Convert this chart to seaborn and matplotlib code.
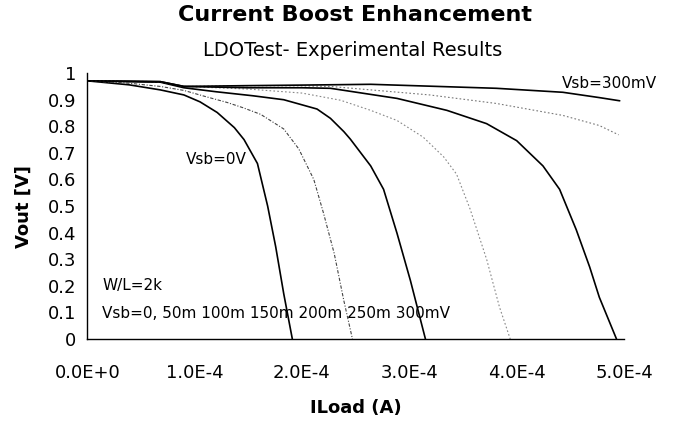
import matplotlib
matplotlib.use("Agg")
import matplotlib.pyplot as plt
import seaborn as sns
import pandas as pd

# ---- data (x in units of 1e-4 A, Vout in V) ----
vsb_labels = ["0", "50m", "100m", "150m", "200m", "250m", "300m"]

x_0 = [0, 0.39, 0.68, 0.90, 1.05, 1.21, 1.37, 1.46, 1.585, 1.68, 1.755, 1.83, 1.91]
y_0 = [0.971, 0.956, 0.937, 0.918, 0.892, 0.852, 0.795, 0.75, 0.66, 0.50, 0.347, 0.17, 0.0]

x_50 = [0, 0.39, 0.68, 0.9, 1.1, 1.30, 1.45, 1.615, 1.83, 1.97, 2.11, 2.20, 2.30, 2.39, 2.47]
y_50 = [0.971, 0.962, 0.95, 0.935, 0.912, 0.89, 0.87, 0.845, 0.79, 0.715, 0.60, 0.474, 0.322, 0.144, 0.0]

x_100 = [0, 0.68, 0.9, 1.2, 1.54, 1.83, 2.14, 2.265, 2.39, 2.45, 2.64, 2.76, 2.885, 3.01, 3.15]
y_100 = [0.971, 0.966, 0.945, 0.93, 0.915, 0.9, 0.865, 0.83, 0.78, 0.752, 0.651, 0.563, 0.398, 0.22, 0.0]

x_150 = [0, 0.68, 0.9, 1.5, 2.0, 2.36, 2.64, 2.885, 3.13, 3.32, 3.44, 3.565, 3.72, 3.84, 3.94]
y_150 = [0.971, 0.968, 0.95, 0.94, 0.925, 0.898, 0.86, 0.822, 0.759, 0.685, 0.62, 0.49, 0.30, 0.12, 0.0]

x_200 = [0, 0.68, 0.9, 1.5, 2.0, 2.265, 2.885, 3.35, 3.72, 4.0, 4.245, 4.40, 4.555, 4.68, 4.77, 4.93]
y_200 = [0.971, 0.968, 0.95, 0.945, 0.945, 0.943, 0.905, 0.86, 0.81, 0.746, 0.651, 0.563, 0.411, 0.271, 0.157, 0.0]

x_250 = [0, 0.68, 0.9, 1.5, 2.0, 2.265, 3.19, 3.81, 4.43, 4.77, 4.95]
y_250 = [0.971, 0.968, 0.95, 0.953, 0.952, 0.95, 0.918, 0.886, 0.841, 0.803, 0.768]

x_300 = [0, 0.68, 0.9, 1.5, 2.0, 2.64, 3.81, 4.43, 4.77, 4.96]
y_300 = [0.971, 0.968, 0.95, 0.953, 0.955, 0.958, 0.943, 0.928, 0.908, 0.896]

x_ticks = [0, 1, 2, 3, 4, 5]
x_tick_labels = ["0.0E+0", "1.0E-4", "2.0E-4", "3.0E-4", "4.0E-4", "5.0E-4"]
y_ticks = [0, 0.1, 0.2, 0.3, 0.4, 0.5, 0.6, 0.7, 0.8, 0.9, 1.0]
y_tick_labels = ["0", "0.1", "0.2", "0.3", "0.4", "0.5", "0.6", "0.7", "0.8", "0.9", "1"]

xs = [x_0, x_50, x_100, x_150, x_200, x_250, x_300]
ys = [y_0, y_50, y_100, y_150, y_200, y_250, y_300]

frames = []
for lab, xv, yv in zip(vsb_labels, xs, ys):
    frames.append(pd.DataFrame({"ILoad": [v * 1e-4 for v in xv], "Vout": yv, "Vsb": lab}))
df = pd.concat(frames, ignore_index=True)

sns.set_theme(style="white")
plt.rcParams["font.family"] = ["DejaVu Sans"]

fig = plt.figure(figsize=(6.79, 4.24), dpi=100)
ax = fig.add_axes([0.1286, 0.2005, 0.7904, 0.627])

styles = {
    "0": dict(color="black", lw=1.2, ls="-"),
    "50m": dict(color="#444444", lw=0.8, ls=(0, (3, 1.5, 1, 1.5))),
    "100m": dict(color="black", lw=1.2, ls="-"),
    "150m": dict(color="#888888", lw=0.8, ls=(0, (1.5, 2))),
    "200m": dict(color="black", lw=1.2, ls="-"),
    "250m": dict(color="#777777", lw=0.8, ls=(0, (1.5, 2))),
    "300m": dict(color="black", lw=1.2, ls="-"),
}
for lab in vsb_labels:
    sub = df[df["Vsb"] == lab]
    st = styles[lab]
    sns.lineplot(data=sub, x="ILoad", y="Vout", ax=ax, sort=False, estimator=None,
                 color=st["color"], linewidth=st["lw"], linestyle=st["ls"])

ax.set_xlim(0, 5e-4)
ax.set_ylim(0, 1)
ax.set_xticks([t * 1e-4 for t in x_ticks])
ax.set_xticklabels(x_tick_labels)
ax.set_yticks(y_ticks)
ax.set_yticklabels(y_tick_labels)
ax.tick_params(axis="both", direction="inout", length=8, width=1, color="black",
               labelsize=13, labelcolor="black", pad=4)
ax.tick_params(axis="x", pad=14)
for s in ["top", "right"]:
    ax.spines[s].set_visible(False)
for s in ["left", "bottom"]:
    ax.spines[s].set_color("black")
    ax.spines[s].set_linewidth(1.0)
ax.grid(False)

ax.set_xlabel("ILoad (A)", fontsize=13, fontweight="bold", labelpad=12, color="black")
ax.set_ylabel("Vout [V]", fontsize=13, fontweight="bold", labelpad=11, color="black")

fig.text(0.523, 0.965, "Current Boost Enhancement", ha="center", va="center",
         fontsize=16, fontweight="bold", color="black")
fig.text(0.519, 0.882, "LDOTest- Experimental Results", ha="center", va="center",
         fontsize=14, color="black")

ax.text(0.92e-4, 0.677, "Vsb=0V", fontsize=11, ha="left", va="center", color="black")
ax.text(4.42e-4, 0.962, "Vsb=300mV", fontsize=11, ha="left", va="center", color="black")
ax.text(0.14e-4, 0.2, "W/L=2k", fontsize=11, ha="left", va="center", color="black")
ax.text(0.14e-4, 0.095, "Vsb=0, 50m 100m 150m 200m 250m 300mV", fontsize=11,
        ha="left", va="center", color="black")

fig.savefig("out.png", dpi=100, facecolor="white")
